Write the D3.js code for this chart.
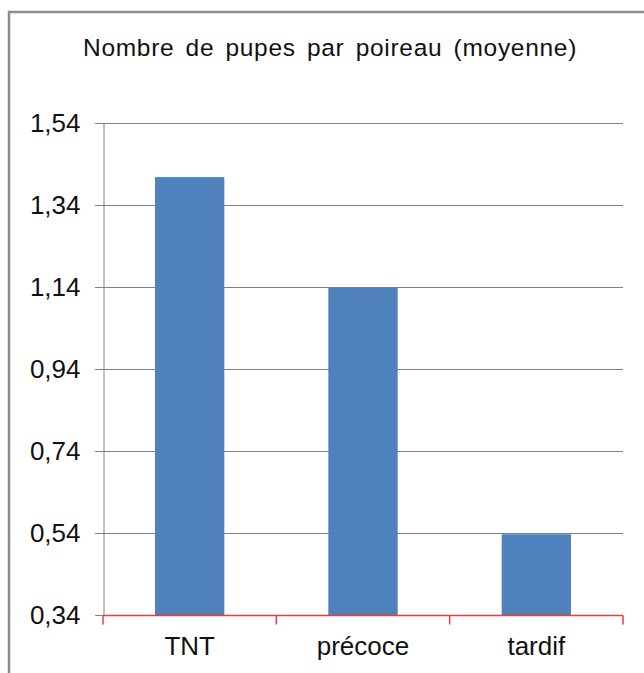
<!DOCTYPE html>
<html>
<head>
<meta charset="utf-8">
<script src="https://cdn.jsdelivr.net/npm/d3@7"></script>
<style>
  body { margin: 0; background: #fff; }
  svg { display: block; font-family: 'Liberation Sans', Arial, sans-serif; }
</style>
</head>
<body>
<div id="chart"></div>
<script>
const categories = ['TNT', 'précoce', 'tardif']
const values = [1.408, 1.138, 0.537]
const yTicks = [0.34, 0.54, 0.74, 0.94, 1.14, 1.34, 1.54]
const title = 'Nombre de pupes par poireau (moyenne)'

const width = 644
const height = 673
const margin = { top: 123, right: 21, bottom: 58, left: 103 }

const svg = d3.select('#chart').append('svg')
  .attr('width', width)
  .attr('height', height)

// chart frame (right / bottom edges fall outside the picture)
svg.append('rect')
  .attr('x', 9)
  .attr('y', 12)
  .attr('width', 660)
  .attr('height', 700)
  .attr('fill', 'none')
  .attr('stroke', '#8c8c8c')
  .attr('stroke-width', 2.5)

const titleText = svg.append('text')
  .attr('x', 330)
  .attr('y', 56)
  .attr('text-anchor', 'middle')
  .attr('font-size', 24.5)
  .attr('letter-spacing', 0.7)
  .attr('fill', '#111')
  .text(title)
// stretch the title to the width seen in the reference
const natural = titleText.node().getComputedTextLength()
titleText.attr('word-spacing', Math.max(0, (494 - natural) / 5))

const x = d3.scaleBand()
  .domain(categories)
  .range([margin.left, width - margin.right])
  .paddingInner(0.6)
  .paddingOuter(0.3)

const y = d3.scaleLinear()
  .domain([0.34, 1.54])
  .range([height - margin.bottom, margin.top])

// gridlines
svg.append('g')
  .selectAll('line')
  .data(yTicks.slice(1))
  .join('line')
  .attr('x1', margin.left - 8)
  .attr('x2', width - margin.right)
  .attr('y1', d => Math.round(y(d)) + 0.5)
  .attr('y2', d => Math.round(y(d)) + 0.5)
  .attr('stroke', '#808080')
  .attr('stroke-width', 1)

// y axis
const yAxis = svg.append('g')
  .attr('transform', `translate(${margin.left + 0.5},0)`)
  .call(d3.axisLeft(y).tickValues(yTicks).tickSize(8).tickPadding(15)
    .tickFormat(d => d3.format('.2f')(d).replace('.', ',')))
yAxis.select('.domain').attr('stroke', '#808080')
yAxis.selectAll('.tick line').attr('stroke', '#808080')
yAxis.selectAll('.tick text')
  .attr('font-size', 26)
  .attr('fill', '#111')
  .attr('font-family', "'Liberation Sans', Arial, sans-serif")

// bars
svg.append('g')
  .selectAll('rect')
  .data(values)
  .join('rect')
  .attr('x', (d, i) => x(categories[i]))
  .attr('y', d => y(d))
  .attr('width', x.bandwidth())
  .attr('height', d => y(0.34) - y(d))
  .attr('fill', '#4f81bd')

// x axis (red) with ticks between categories
const xAxisG = svg.append('g')
const y0 = Math.round(y(0.34)) + 0.5
xAxisG.append('line')
  .attr('x1', margin.left)
  .attr('x2', width - margin.right)
  .attr('y1', y0)
  .attr('y2', y0)
  .attr('stroke', '#ee3b3b')
  .attr('stroke-width', 1.5)
const bounds = categories.map(c => x(c) - x.step() * x.paddingInner() / 2)
bounds.push(width - margin.right)
xAxisG.selectAll('line.tk')
  .data(bounds)
  .join('line')
  .attr('class', 'tk')
  .attr('x1', d => d)
  .attr('x2', d => d)
  .attr('y1', y0)
  .attr('y2', y0 + 9)
  .attr('stroke', '#ee3b3b')
  .attr('stroke-width', 1.5)

xAxisG.selectAll('text')
  .data(categories)
  .join('text')
  .attr('x', d => x(d) + x.bandwidth() / 2)
  .attr('y', 655)
  .attr('text-anchor', 'middle')
  .attr('font-size', 26)
  .attr('fill', '#111')
  .text(d => d)
</script>
</body>
</html>
